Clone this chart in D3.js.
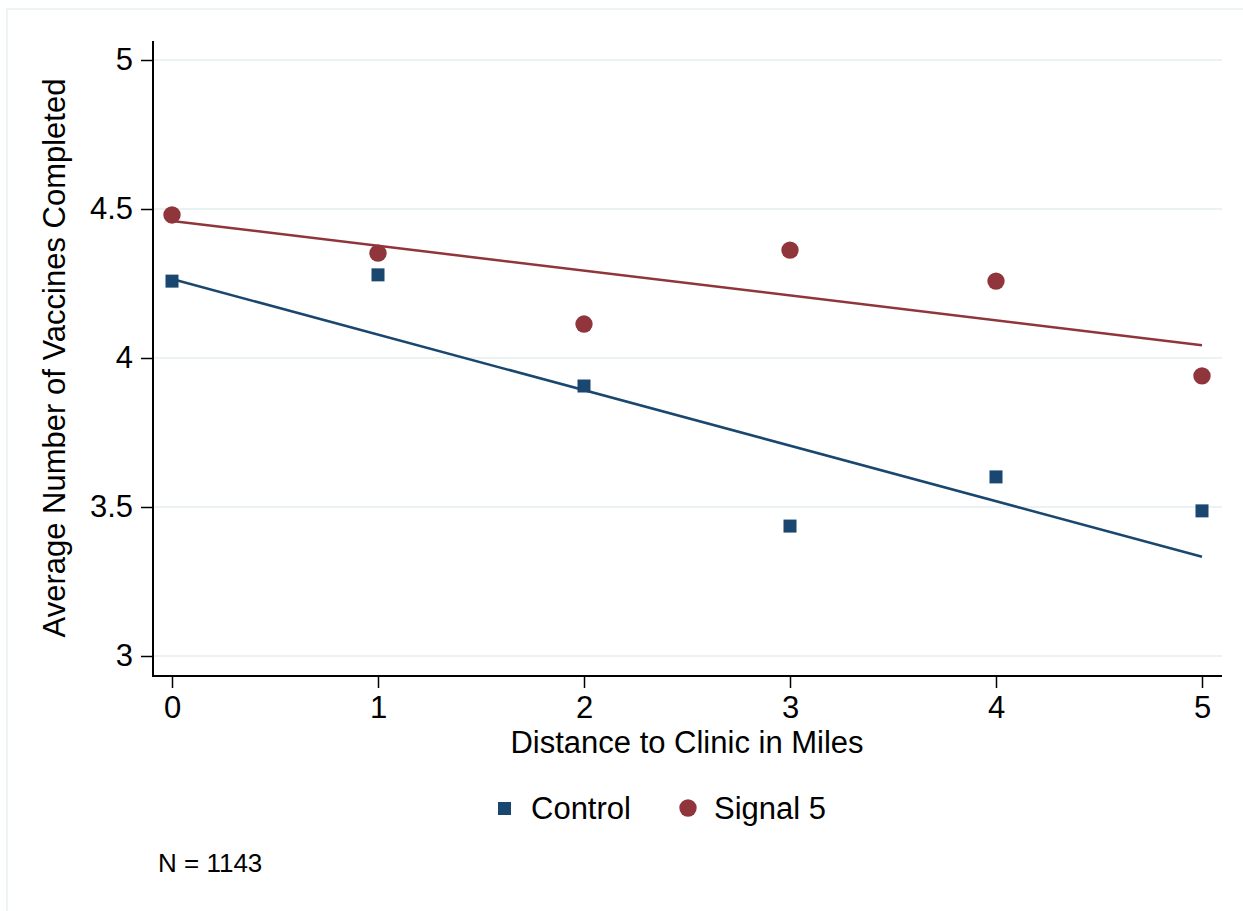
<!DOCTYPE html>
<html>
<head>
<meta charset="utf-8">
<script src="https://cdn.jsdelivr.net/npm/d3@7"></script>
<style>
  html, body { margin: 0; padding: 0; background: #ffffff; }
  svg { display: block; font-family: "Liberation Sans", Arial, Helvetica, sans-serif; }
</style>
</head>
<body>
<svg id="chart" width="1243" height="911"></svg>
<script>
// Distance to clinic (miles)
const distances = [0, 1, 2, 3, 4, 5];
// Average vaccines completed per group
const controlMeans = [4.258, 4.279, 3.906, 3.436, 3.601, 3.487];
const signalMeans  = [4.480, 4.352, 4.114, 4.362, 4.258, 3.940];
// Linear fit endpoints at distance 0 and 5
const controlFit = [4.265, 3.333];
const signalFit  = [4.460, 4.043];
const fitX = [0, 5];
// Axis ticks
const yTicks = [3, 3.5, 4, 4.5, 5];
const xTicks = [0, 1, 2, 3, 4, 5];
const seriesNames = ["Control", "Signal 5"];
const noteText = "N = 1143";

const navy = "#1a476f";
const maroon = "#90353b";
const gridColor = "#eaf2f3";
const fontFamily = "\"Liberation Sans\", Arial, sans-serif";
const bigFont = "31px";

const svg = d3.select("#chart");

// Outer graph-region frame
svg.append("rect")
  .attr("x", 7).attr("y", 9)
  .attr("width", 1260).attr("height", 930)
  .attr("fill", "none")
  .attr("stroke", "#eef3f6")
  .attr("stroke-width", 2);

const plot = { left: 153, right: 1222, top: 41, bottom: 676 };

const x = d3.scaleLinear().domain([0, 5]).range([172, 1202]);
const y = d3.scaleLinear().domain([3, 5]).range([656, 60]);

// Horizontal gridlines
svg.append("g").selectAll("line")
  .data(yTicks)
  .join("line")
  .attr("x1", plot.left).attr("x2", plot.right)
  .attr("y1", d => y(d)).attr("y2", d => y(d))
  .attr("stroke", gridColor)
  .attr("stroke-width", 2);

// Y axis
const yAxis = d3.axisLeft(y)
  .tickValues(yTicks)
  .tickFormat(d3.format("~g"))
  .tickSize(12)
  .tickPadding(8);
const gy = svg.append("g")
  .attr("transform", `translate(${plot.left},0)`)
  .call(yAxis);
gy.select(".domain").remove();
gy.append("line")
  .attr("x1", 0).attr("x2", 0)
  .attr("y1", plot.top).attr("y2", plot.bottom + 1)
  .attr("stroke", "#000").attr("stroke-width", 2);
gy.selectAll(".tick line").attr("stroke", "#000").attr("stroke-width", 1.5);
gy.selectAll(".tick text")
  .attr("fill", "#000")
  .style("font-size", bigFont)
  .style("font-family", fontFamily);

// X axis
const xAxis = d3.axisBottom(x)
  .tickValues(xTicks)
  .tickFormat(d3.format("d"))
  .tickSize(12)
  .tickPadding(8);
const gx = svg.append("g")
  .attr("transform", `translate(0,${plot.bottom})`)
  .call(xAxis);
gx.select(".domain").remove();
gx.append("line")
  .attr("x1", plot.left - 1).attr("x2", plot.right)
  .attr("y1", 0).attr("y2", 0)
  .attr("stroke", "#000").attr("stroke-width", 2);
gx.selectAll(".tick line").attr("stroke", "#000").attr("stroke-width", 1.5);
gx.selectAll(".tick text")
  .attr("fill", "#000")
  .style("font-size", bigFont)
  .style("font-family", fontFamily);

// Axis titles
svg.append("text")
  .attr("x", (x(0) + x(5)) / 2)
  .attr("y", 753)
  .attr("text-anchor", "middle")
  .style("font-size", bigFont)
  .text("Distance to Clinic in Miles");

svg.append("text")
  .attr("transform", `translate(65,${y(4)}) rotate(-90)`)
  .attr("text-anchor", "middle")
  .style("font-size", bigFont)
  .text("Average Number of Vaccines Completed");

// Fit lines
const line = d3.line().x(d => x(d[0])).y(d => y(d[1]));
svg.append("path")
  .datum(fitX.map((d, i) => [d, signalFit[i]]))
  .attr("d", line)
  .attr("fill", "none")
  .attr("stroke", maroon)
  .attr("stroke-width", 2.5);
svg.append("path")
  .datum(fitX.map((d, i) => [d, controlFit[i]]))
  .attr("d", line)
  .attr("fill", "none")
  .attr("stroke", navy)
  .attr("stroke-width", 2.5);

// Control markers (squares)
const sq = 13;
svg.append("g").selectAll("rect")
  .data(distances.map((d, i) => [d, controlMeans[i]]))
  .join("rect")
  .attr("x", d => x(d[0]) - sq / 2)
  .attr("y", d => y(d[1]) - sq / 2)
  .attr("width", sq).attr("height", sq)
  .attr("fill", navy);

// Signal markers (circles)
svg.append("g").selectAll("circle")
  .data(distances.map((d, i) => [d, signalMeans[i]]))
  .join("circle")
  .attr("cx", d => x(d[0]))
  .attr("cy", d => y(d[1]))
  .attr("r", 8.7)
  .attr("fill", maroon);

// Legend
const legend = svg.append("g");
legend.append("rect")
  .attr("x", 498).attr("y", 802)
  .attr("width", 13).attr("height", 13)
  .attr("fill", navy);
legend.append("text")
  .attr("x", 531).attr("y", 819)
  .style("font-size", bigFont)
  .text(seriesNames[0]);
legend.append("circle")
  .attr("cx", 688).attr("cy", 808)
  .attr("r", 8.7)
  .attr("fill", maroon);
legend.append("text")
  .attr("x", 714).attr("y", 819)
  .style("font-size", bigFont)
  .text(seriesNames[1]);

// Note
svg.append("text")
  .attr("x", 158).attr("y", 872)
  .style("font-size", "26px")
  .text(noteText);
</script>
</body>
</html>
